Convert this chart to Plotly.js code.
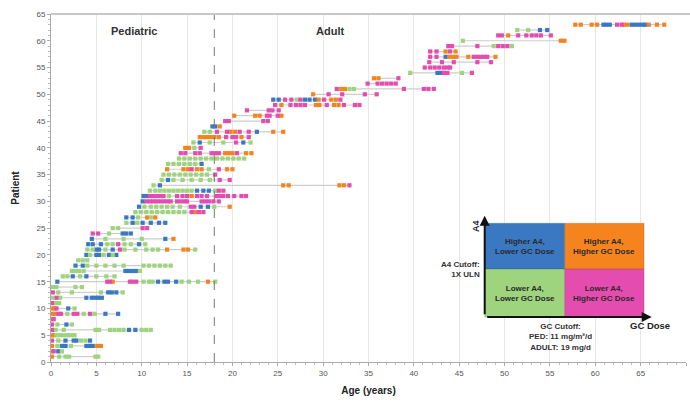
<!DOCTYPE html>
<html>
<head>
<meta charset="utf-8">
<script src="https://cdn.plot.ly/plotly-3.0.1.min.js"></script>
<style>
  html, body { margin: 0; padding: 0; background: #fff; }
  #chart { width: 690px; height: 402px; }
</style>
</head>
<body>
<div id="chart"></div>
<script>
// ---- DATA ----
// Quadrant categories (code -> label, colour)
const categoryCodes = ["b", "o", "g", "p"];
const categoryNames = ["Higher A4, Lower GC Dose", "Higher A4, Higher GC Dose",
                       "Lower A4, Lower GC Dose", "Lower A4, Higher GC Dose"];
const categoryColors = ["#3a78c2", "#f5841f", "#9dd47d", "#e44daf"];

// Visits per patient (patient number = row index + 1): <category code><age in years>
const visitRows = [
  "o0.1 g0.9 g1.6 g2.0 g4.9 g5.2",
  "o0.1 p0.3 b0.8 g1.2",
  "o0.1 g0.7 b1.2 b1.6 g2.2 b3.9 b4.3 b4.6 o5.1 o5.5",
  "p0.1 g0.8 b1.6 b2.5 b2.8 g3.3 g3.8 b4.3",
  "o0.1 o0.3 g0.6 g1.0 g1.4 g1.8 g2.2 g2.6",
  "p0.1 g0.5 g1.4 g4.9 g5.3 g6.5 g7.0 g7.5 g8.0 b8.6 b9.3 g10.0 g10.5 g11.0",
  "p0.1 g0.7 b1.7 g2.3",
  "o0.1 p0.3",
  "o0.1 o0.4 p0.8 p1.1 g1.8 p2.5 p2.9 g3.6 p4.3 g4.8 b6.0 b7.4",
  "o0.1 o0.4 p0.6 b1.9 g2.6",
  "p0.1 g0.5 g0.9",
  "g0.1 p0.6 g1.0 b3.9 b4.5 b4.9 b5.2 b5.6",
  "p0.2 g0.8 g2.3 g5.5 b6.3 b6.7 b7.2 g7.9",
  "g0.2 g0.6 g2.7 g3.4",
  "b0.7 p6.2 p6.5 o6.8 p8.7 p9.0 p9.4 g10.2 g10.8 g11.2 b11.8 b12.5 b12.9 b13.8 g14.4 g15.2 g16.2 o17.3 g18.1",
  "g1.3 g1.8 b2.4 g3.2 b3.9 g5.0 g6.1 g7.0",
  "g2.3 g2.7 g3.1 g3.6 b8.2 b8.6 b9.0 b9.4 g9.8",
  "b2.7 b3.5 g4.0 g5.0 g6.0 g7.0 g8.0 g10.2 g10.8 g11.4 g12.0 g12.6 g13.2",
  "g3.0 g3.5 g4.0",
  "b3.9 g4.3 b5.0 b5.3 g5.8 b6.4 g6.8 b7.2",
  "g4.0 g4.6 b5.0 b5.3 g6.0 b6.8 p7.6 g8.1 g9.3 g10.5 g11.2 g11.8 o12.8 o14.6 o15.1 g15.9",
  "b4.1 b4.6 b5.5 g6.2 g6.8 p7.4 g8.1 g8.8 b9.7 g10.4",
  "b4.5 g6.0 g8.0 g10.0 b12.6 o13.5",
  "p4.6 p5.2 g6.4 b7.9 b8.3 b8.8",
  "g6.8 g7.4 p10.1 p10.6",
  "g8.3 b9.0 g9.5 b10.1 b11.0 b11.9 b12.6",
  "b8.3 b9.0 g9.6 o10.6 g11.0 o11.5",
  "g9.3 g9.9 g10.5 g11.1 g11.7 g12.3 g12.9 g13.5 g14.1 g14.7 p15.5 o15.9 p16.3 p16.8",
  "b9.7 g10.3 g11.0 g11.6 g12.2 g12.8 g13.4 g14.2 p15.4 p15.8 b16.5 b17.3 g18.0 o19.7",
  "b10.1 p10.5 p10.9 p11.3 p11.7 p12.1 p12.5 p12.9 p13.2 p13.9 p14.3 p14.7 p15.0 p16.6 p17.0 p17.4 p17.9 p18.5",
  "b10.2 b10.6 p10.9 p11.3 p11.7 p12.1 p12.4 g13.0 p13.9 p14.5 p15.0 o15.5 p16.1 p16.6 p17.2 p18.3 p18.7 p19.0 p19.5 p20.2 p21.0 p21.5",
  "g10.9 g11.5 g12.0 g12.5 g13.0 g13.5 g14.0 g14.5 g15.0 g15.5 b16.1 b16.8 b17.4 g18.1 p18.5 p19.0",
  "g11.3 b12.0 o25.6 o26.2 o31.8 o32.3 p32.9",
  "g12.2 b12.9 g13.5 g14.5 g15.5 g16.5 g17.5 p18.6 p19.7",
  "g12.4 g13.0 g13.6 g14.2 g14.8 g15.4 g16.0 g16.6 g17.2 p18.1",
  "o12.8 o14.6 o15.1 p15.5 o16.1 o16.6 g17.4 p18.5 o19.4 o20.0",
  "g12.9 g13.5 g14.1 g14.7 g15.3 g15.9 b16.6",
  "g14.1 g14.7 g15.3 g15.9 g16.5 g17.1 g17.7 g18.3 g18.9 g19.5 g20.1 g20.7 g21.3",
  "p14.3 p14.8 p15.9 p16.4 p17.7 p18.1 p18.5 o19.2 o19.6 o20.0 p20.5 o21.5 o22.1",
  "o14.8 o15.2 g15.8 p16.5",
  "g15.7 b16.4 g17.5 g19.0 p20.4 b21.2 g22.0",
  "o16.4 o16.8 o17.2 o17.6 o18.0 o18.5 p19.3 p20.0 p20.4 o21.0 p21.8",
  "g16.9 g17.5 p18.3 p19.4 o19.8 o20.3 p20.8 p21.8 b22.7 o24.5 o25.6",
  "b17.8 b18.1 o18.6",
  "p19.2 p19.6 p23.4 p23.9",
  "o20.2 o22.5 o23.0 p23.8 p24.1 p25.0 o25.4",
  "p21.6 p24.0 p24.4 p25.1",
  "p24.7 o25.4 p26.4 p27.0 p27.5 p28.0 o29.2 o29.6 p30.4 o31.2 o31.7 p32.3 p33.5 p34.0",
  "b24.5 b25.1 p25.8 p26.5 g27.1 p27.5 b28.0 b28.5 b29.1 o29.5 p30.1 o30.9 o31.4 p31.9",
  "o28.9 p30.6 p32.1 p34.6 p35.9",
  "p31.5 o32.0 o32.4 g32.9 g33.4 p38.9 p41.1 p41.6 p42.2",
  "p34.9 p36.0 p36.5 p37.0 p37.5 p38.0",
  "o35.6 o36.1 p38.3",
  "g39.6 b42.6 b43.0 p43.3 p43.7 g45.3 p46.4",
  "p41.2 p41.8 p42.3 p42.8 p43.3 p43.7 p44.0",
  "p41.7 p43.1 p44.4 p47.0 p48.5",
  "p41.8 p42.5 b43.5 o43.9 o44.3 o44.7 o46.0 p46.6 p47.0 p47.4 p47.8 p48.1 o49.0",
  "p41.8 p42.5 o43.5 p44.0 o44.6",
  "p43.8 p44.2 p47.0 g48.8 p49.3 p49.8 p50.3 g50.8",
  "g45.4 o56.2 o56.6",
  "p49.3 p49.7 o50.4 p51.5 p52.4 p53.0 p53.5 p54.0 p55.1",
  "g51.4 g52.6 b53.9 b54.7",
  "o57.8 o58.4 o59.6 o60.2 b60.9 b61.2 b61.6 p62.4 p62.9 o63.1 o63.5 b64.0 b64.4 b64.8 b65.2 b65.5 o65.9 o66.8 o67.6"
];

const adultAge = 18;           // pediatric / adult boundary
const ageTicks = [0, 5, 10, 15, 20, 25, 30, 35, 40, 45, 50, 55, 60, 65, 70];
const patientTicks = [0, 5, 10, 15, 20, 25, 30, 35, 40, 45, 50, 55, 60, 65];

// ---- BUILD TRACES ----
const FONT = "Liberation Sans, Arial, sans-serif";
const parsed = visitRows.map((row, i) => row.trim().split(/\s+/).map(t => ({
  cat: t[0], age: parseFloat(t.slice(1)), patient: i + 1
})));

const spanX = [], spanY = [];
parsed.forEach(vs => {
  const ages = vs.map(v => v.age);
  spanX.push(Math.min(...ages), Math.max(...ages), null);
  spanY.push(vs[0].patient, vs[0].patient, null);
});

const traces = [{
  type: "scatter", mode: "lines", x: spanX, y: spanY,
  line: { color: "#cdcdcd", width: 1.2 }, hoverinfo: "skip", showlegend: false
}];

categoryCodes.forEach((code, k) => {
  const xs = [], ys = [];
  parsed.forEach(vs => vs.forEach(v => { if (v.cat === code) { xs.push(v.age); ys.push(v.patient); } }));
  traces.push({
    type: "scatter", mode: "markers", name: categoryNames[k], x: xs, y: ys,
    marker: { symbol: "square", size: 4.2, color: categoryColors[k], line: { width: 0 } },
    showlegend: false
  });
});

// ---- INSET (quadrant key), in paper coords ----
const L = 0.683, M = 0.809, R = 0.934, B = 0.129, C = 0.267, T = 0.399;
const quad = (x0, x1, y0, y1, col) => ({ type: "rect", xref: "paper", yref: "paper",
  x0, x1, y0, y1, fillcolor: col, line: { color: "rgba(0,0,0,0.25)", width: 0.5 }, layer: "above" });

const shapes = [
  { type: "line", xref: "x", yref: "paper", x0: adultAge, x1: adultAge, y0: 0, y1: 1,
    line: { color: "#777", width: 1, dash: "dash" } },
  { type: "line", xref: "paper", yref: "paper", x0: 0, x1: 1.01, y0: 1, y1: 1,
    line: { color: "#c8c8c8", width: 2 } },
  quad(L, M, C, T, categoryColors[0]),
  quad(M, R, C, T, categoryColors[1]),
  quad(L, M, B, C, categoryColors[2]),
  quad(M, R, B, C, categoryColors[3])
];

const qText = (x, y, t) => ({ xref: "paper", yref: "paper", x, y, xanchor: "center", yanchor: "middle",
  text: t, showarrow: false, align: "center",
  font: { family: FONT, size: 8, color: "#2a2a2a" } });

const annotations = [
  { xref: "x", yref: "y", x: 9.2, y: 61.8, xanchor: "center", yanchor: "middle",
    text: "<b>Pediatric</b>", showarrow: false, font: { family: FONT, size: 11, color: "#333" } },
  { xref: "x", yref: "y", x: 30.8, y: 61.8, xanchor: "center", yanchor: "middle",
    text: "<b>Adult</b>", showarrow: false, font: { family: FONT, size: 11, color: "#333" } },
  qText((L + M) / 2, (C + T) / 2, "<b>Higher A4,<br>Lower GC Dose</b>"),
  qText((M + R) / 2, (C + T) / 2, "<b>Higher A4,<br>Higher GC Dose</b>"),
  qText((L + M) / 2, (B + C) / 2, "<b>Lower A4,<br>Lower GC Dose</b>"),
  qText((M + R) / 2, (B + C) / 2, "<b>Lower A4,<br>Higher GC Dose</b>"),
  // arrows
  { xref: "paper", yref: "paper", x: L, y: 0.42, ax: 0, ay: 100, showarrow: true,
    arrowhead: 2, arrowsize: 1, arrowwidth: 2, arrowcolor: "#111", text: "" },
  { xref: "paper", yref: "paper", x: 0.946, y: B, ax: -166, ay: 0, showarrow: true,
    arrowhead: 2, arrowsize: 1, arrowwidth: 2, arrowcolor: "#111", text: "" },
  { xref: "paper", yref: "paper", x: 0.669, y: 0.39, xanchor: "center", yanchor: "middle",
    text: "<b>A4</b>", textangle: -90,
    showarrow: false, font: { family: FONT, size: 9, color: "#222" } },
  { xref: "paper", yref: "paper", x: 0.679, y: 0.265, xanchor: "right", yanchor: "middle",
    text: "<b>A4 Cutoff:<br>1X ULN</b>", align: "right", showarrow: false,
    font: { family: FONT, size: 8, color: "#333" } },
  { xref: "paper", yref: "paper", x: 0.803, y: 0.12, xanchor: "center", yanchor: "top",
    text: "<b>GC Cutoff:</b><br><b>PED: 11 mg/m²/d</b><br><b>ADULT: 19 mg/d</b>", align: "center",
    showarrow: false, font: { family: FONT, size: 8, color: "#333" } },
  { xref: "paper", yref: "paper", x: 0.944, y: 0.104, xanchor: "center", yanchor: "middle",
    text: "<b>GC Dose</b>", showarrow: false, font: { family: FONT, size: 9.5, color: "#222" } }
];

const axisCommon = {
  showline: true, linecolor: "#aaa", linewidth: 1, zeroline: false,
  ticks: "outside", ticklen: 3, tickcolor: "#aaa",
  tickfont: { family: FONT, size: 8, color: "#555" },
  minor: { dtick: 1, ticks: "outside", ticklen: 2, tickcolor: "#bbb", showgrid: false }
};

const layout = {
  width: 690, height: 402,
  margin: { l: 51, r: 4, t: 14, b: 40 },
  paper_bgcolor: "#fff", plot_bgcolor: "#fff",
  showlegend: false, hovermode: false,
  font: { family: FONT },
  xaxis: Object.assign({}, axisCommon, {
    range: [0, 70], tickvals: ageTicks, showgrid: true, gridcolor: "#e6e6e6", gridwidth: 1,
    title: { text: "<b>Age (years)</b>", font: { family: FONT, size: 10, color: "#222" }, standoff: 10 }
  }),
  yaxis: Object.assign({}, axisCommon, {
    range: [0, 65], tickvals: patientTicks, showgrid: false,
    title: { text: "<b>Patient</b>", font: { family: FONT, size: 10, color: "#222" }, standoff: 14 }
  }),
  shapes, annotations
};

Plotly.newPlot("chart", traces, layout, { displayModeBar: false, staticPlot: true });
</script>
</body>
</html>
